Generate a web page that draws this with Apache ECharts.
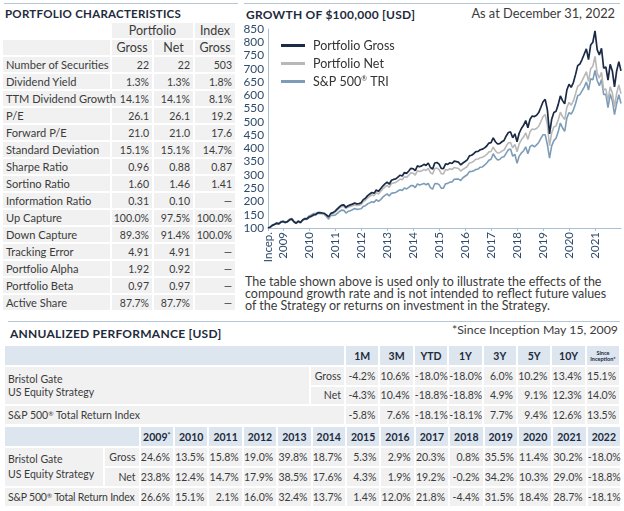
<!DOCTYPE html>
<html><head><meta charset="utf-8">
<script src="https://cdn.jsdelivr.net/npm/echarts@6.0.0/dist/echarts.min.js"></script>
<style>
html,body{margin:0;padding:0;background:#fff;}
body{width:624px;height:511px;position:relative;overflow:hidden;font-family:Lato,'Open Sans',sans-serif;color:#3b3b3b;}
.rule{position:absolute;height:1px;background:#b7c7d7;}
.title{position:absolute;font-weight:bold;font-size:11.5px;color:#1e2b3c;letter-spacing:0.25px;white-space:nowrap;}
.txt{position:absolute;white-space:nowrap;}
table{border-collapse:separate;border-spacing:2px;position:absolute;table-layout:fixed;font-size:10.5px;color:#3b3b3b;}
td{padding:0;white-space:nowrap;overflow:visible;box-sizing:border-box;}
.g{background:#f1f1f1;}
.b{background:#dde6ef;}
.r{text-align:right;padding-right:3px;}
.c{text-align:center;}
.l{text-align:left;padding-left:3px;}
.hb{font-weight:bold;color:#1e2b3c;}
.reg{font-size:6.5px;vertical-align:3px;}
.tiny{font-size:5.5px;line-height:6px;font-weight:bold;color:#1e2b3c;}
#charTable .l{font-size:11.1px;}
#charTable .h{font-size:12.5px;}
</style>
</head><body>
<div class="rule" style="left:4px;top:3px;width:234px;"></div>
<div class="rule" style="left:244px;top:3px;width:376px;"></div>
<div class="title" style="left:5px;top:7px;">PORTFOLIO CHARACTERISTICS</div>
<div class="title" style="left:246px;top:7px;font-size:12px;">GROWTH OF $100,000 [USD]</div>
<div class="txt" style="right:9px;top:5px;font-size:12.8px;color:#3b3b3b;">As at December 31, 2022</div>
<table id="charTable" style="left:1px;top:21px;width:236px;"></table>
<div id="chart" style="position:absolute;left:240px;top:20px;width:384px;height:250px;"></div>
<div class="txt" style="left:245px;top:276px;font-size:12.5px;line-height:12px;color:#3b3b3b;">The table shown above is used only to illustrate the effects of the<br>compound growth rate and is not intended to reflect future values<br>of the Strategy or returns on investment in the Strategy.</div>
<div class="rule" style="left:8px;top:321px;width:612px;"></div>
<div class="title" style="left:10px;top:326px;font-size:12px;">ANNUALIZED PERFORMANCE [USD]</div>
<div class="txt" style="right:6px;top:322px;font-size:12.3px;color:#3b3b3b;">*Since Inception May 15, 2009</div>
<table id="perfTable" style="left:3px;top:344px;width:618px;"></table>
<table id="yearTable" style="left:3px;top:425px;width:619px;"></table>
<script>
// ---------- Portfolio characteristics ----------
const charLabels = ['Number of Securities','Dividend Yield','TTM Dividend Growth','P/E','Forward P/E','Standard Deviation','Sharpe Ratio','Sortino Ratio','Information Ratio','Up Capture','Down Capture','Tracking Error','Portfolio Alpha','Portfolio Beta','Active Share'];
const charGross = ['22','1.3%','14.1%','26.1','21.0','15.1%','0.96','1.60','0.31','100.0%','89.3%','4.91','1.92','0.97','87.7%'];
const charNet   = ['22','1.3%','14.1%','26.1','21.0','15.1%','0.88','1.46','0.10','97.5%','91.4%','4.91','0.92','0.97','87.7%'];
const charIndex = ['503','1.8%','8.1%','19.2','17.6','14.7%','0.87','1.41','—','100.0%','100.0%','—','—','—','—'];

// ---------- Annualized performance ----------
const perfPeriods = ['1M','3M','YTD','1Y','3Y','5Y','10Y','Since Inception*'];
const perfGross = ['-4.2%','10.6%','-18.0%','-18.0%','6.0%','10.2%','13.4%','15.1%'];
const perfNet   = ['-4.3%','10.4%','-18.8%','-18.8%','4.9%','9.1%','12.3%','14.0%'];
const perfIndex = ['-5.8%','7.6%','-18.1%','-18.1%','7.7%','9.4%','12.6%','13.5%'];

// ---------- Calendar year performance ----------
const years = ['2009*','2010','2011','2012','2013','2014','2015','2016','2017','2018','2019','2020','2021','2022'];
const yrGross = ['24.6%','13.5%','15.8%','19.0%','39.8%','18.7%','5.3%','2.9%','20.3%','0.8%','35.5%','11.4%','30.2%','-18.0%'];
const yrNet   = ['23.8%','12.4%','14.7%','17.9%','38.5%','17.6%','4.3%','1.9%','19.2%','-0.2%','34.2%','10.3%','29.0%','-18.8%'];
const yrIndex = ['26.6%','15.1%','2.1%','16.0%','32.4%','13.7%','1.4%','12.0%','21.8%','-4.4%','31.5%','18.4%','28.7%','-18.1%'];

// ---------- Growth of $100,000 (monthly, May 2009 - Dec 2022, thousands) ----------
const yearTickLabels = ['Incep.','2009','2010','2011','2012','2013','2014','2015','2016','2017','2018','2019','2020','2021'];
const grossValues = [
 100,103,110,113.5,117.5,115.5,122,124.6,
 120.5,124,131,133.5,123.5,118,125.5,120.5,130,134.5,134.5,141.4,
 144.5,149.5,151,157,158,156.5,155,149,142,155,158,163.8,
 172,180,186,187,178,184,187,190,194,191,192,194.9,
 207,212,222,228,234,231,243,238,248,258,266,272.5,
 265,280,283,285,292,299,296,309,306,315,325,323.4,
 316,334,331,334,340,336,345,328,322,345,347,340.6,
 325,324,342,340,346,343,352,350,348,338,345,350.5,
 357,372,374,380,388,389,395,397,402,409,420,421.6,
 440,425,417,418,425,430,447,460,462,440,455,425,
 458,475,487,505,478,510,522,520,525,535,555,575.9,
 585,545,455,510,535,540,565,598,580,568,620,641.5,
 630,648,678,712,718,735,755,775,735,790,800,843,
 772,752,777,702,707,657,717,692,632,692,727,692
];
const netValues = [
 100,102.9,109.8,113.2,117.1,115.0,121.4,123.8,
 119.7,123.0,129.8,132.3,122.3,116.7,124.0,118.9,128.2,132.6,132.5,139.1,
 142.0,146.8,148.3,154.0,154.8,153.2,151.6,145.6,138.7,151.3,154.1,159.5,
 167.4,175.1,180.8,181.6,172.8,178.5,181.2,184.1,187.8,184.7,185.7,188.3,
 199.8,204.4,213.8,219.6,225.1,222.0,233.3,228.2,237.6,247.2,254.6,260.5,
 253.1,267.4,270.0,271.6,278.0,284.6,281.5,293.6,290.7,298.9,308.1,306.6,
 299.3,316.0,312.8,315.3,321.0,316.8,325.0,308.6,303.0,324.3,325.8,319.8,
 304.9,303.6,320.1,317.9,323.5,320.4,328.4,326.2,324.3,314.7,320.9,326.0,
 331.7,345.2,346.7,352.3,359.3,359.8,365.0,366.8,371.0,377.1,386.8,388.3,
 404.8,390.6,382.8,383.7,389.7,393.9,409.0,420.9,422.3,401.7,415.0,387.6,
 417.2,432.3,442.7,459.0,434.0,462.6,472.9,471.1,475.1,483.6,501.2,520.0,
 527.7,491.0,409.5,459.0,481.0,484.9,506.8,536.4,519.7,508.4,554.3,573.5,
 562.6,578.7,604.8,634.4,639.7,654.2,671.2,689.0,652.7,700.7,709.6,747,
 684,665,687,620,624,579,632,609,556,608,639,606
];
const spValues = [
 100,103.5,111.5,115.5,119.8,117.6,124.6,126.6,
 122.0,125.8,133.4,135.5,124.7,118.2,126.5,120.8,131.5,136.5,136.5,145.7,
 149.2,154.3,154.3,158.9,157.2,154.5,151.4,143.2,133.2,147.7,147.4,148.8,
 155.5,162.2,167.5,166.5,156.5,162.9,165.2,169.0,173.4,170.3,171.3,172.6,
 181.6,184.1,191.1,194.7,199.2,196.6,206.6,200.6,206.8,216.3,222.8,228.5,
 220.5,230.6,232.5,234.1,239.5,244.5,241.1,250.7,247.2,253.1,260.0,259.8,
 252.0,266.4,262.1,264.7,268.1,263.0,268.5,252.4,246.1,266.8,267.6,263.4,
 250.2,250.0,267.0,268.1,272.9,273.7,283.8,284.1,284.1,279.0,289.3,295.0,
 300.6,312.6,312.9,316.0,320.4,322.3,329.1,330.1,337.0,344.8,355.5,359.3,
 379.8,365.7,356.6,358.0,366.6,368.8,382.4,395.0,397.4,370.4,377.8,343.5,
 371.0,382.9,390.2,405.8,379.8,406.4,412.1,405.5,413.2,422.3,437.5,451.7,
 451.6,414.6,363.2,409.7,429.4,438.0,462.5,495.8,477.0,464.1,514.7,534.8,
 529.5,544.3,568.3,598.4,602.6,616.5,631.3,650.2,619.7,663.0,658.4,694,
 656,636,660,603,604,554,605,580,527,570,602,569
];

// month categories
const months = [];
for (let y = 2009; y <= 2022; y++) {
  for (let m = (y === 2009 ? 5 : 1); m <= 12; m++) months.push(y + '-' + (m < 10 ? '0' + m : m));
}
const tickMap = {};
tickMap[months[0]] = yearTickLabels[0];
for (let i = 1; i < yearTickLabels.length; i++) tickMap[yearTickLabels[i] + '-12'] = yearTickLabels[i];

function regify(s){ return s.replace('®','<span class="reg">®</span>'); }

// build characteristics table
(function(){
  const W=[107,40,39,40];
  let h='<colgroup>'+W.map(w=>'<col style="width:'+w+'px">').join('')+'</colgroup>';
  const H='height:15px;';
  h+='<tr style="'+H+'"><td></td><td class="g c h" colspan="2">Portfolio</td><td class="g c h">Index</td></tr>';
  h+='<tr style="'+H+'"><td class="g"></td><td class="g c h">Gross</td><td class="g c h">Net</td><td class="g c h">Gross</td></tr>';
  for(let i=0;i<charLabels.length;i++){
    h+='<tr style="'+H+'"><td class="g l">'+charLabels[i]+'</td><td class="g r">'+charGross[i]+'</td><td class="g r">'+charNet[i]+'</td><td class="g r">'+charIndex[i]+'</td></tr>';
  }
  document.getElementById('charTable').innerHTML=h;
})();

// build annualized performance table
(function(){
  let h='<colgroup><col style="width:304px"><col style="width:33px">'+perfPeriods.map(()=>'<col style="width:32.4px">').join('')+'</colgroup>';
  h+='<tr style="height:19px"><td class="b" colspan="2"></td>'+perfPeriods.map(p=>{
    if(p.indexOf('Since')===0) return '<td class="b c"><div class="tiny">Since<br>Inception*</div></td>';
    return '<td class="b c hb">'+p+'</td>';}).join('')+'</tr>';
  h+='<tr style="height:17.5px"><td class="g l" rowspan="2" style="line-height:13px;vertical-align:middle;">Bristol Gate<br>US Equity Strategy</td><td class="g r">Gross</td>'+perfGross.map(v=>'<td class="g r">'+v+'</td>').join('')+'</tr>';
  h+='<tr style="height:17.5px"><td class="g r">Net</td>'+perfNet.map(v=>'<td class="g r">'+v+'</td>').join('')+'</tr>';
  h+='<tr style="height:17.5px"><td class="g l" colspan="2">'+regify('S&P 500® Total Return Index')+'</td>'+perfIndex.map(v=>'<td class="g r">'+v+'</td>').join('')+'</tr>';
  document.getElementById('perfTable').innerHTML=h;
})();

// build calendar year table
(function(){
  let h='<colgroup><col style="width:98px"><col style="width:33.6px">'+years.map(()=>'<col style="width:32.4px">').join('')+'</colgroup>';
  h+='<tr style="height:19px"><td class="b" colspan="2"></td>'+years.map(y=>'<td class="b c hb">'+y.replace('*','<span style="font-size:7px;vertical-align:3px">*</span>')+'</td>').join('')+'</tr>';
  h+='<tr style="height:18px"><td class="g l" rowspan="2" style="line-height:15px;vertical-align:middle;">Bristol Gate<br>US Equity Strategy</td><td class="g r">Gross</td>'+yrGross.map(v=>'<td class="g r">'+v+'</td>').join('')+'</tr>';
  h+='<tr style="height:18px"><td class="g r">Net</td>'+yrNet.map(v=>'<td class="g r">'+v+'</td>').join('')+'</tr>';
  h+='<tr style="height:18px"><td class="g l" colspan="2" style="letter-spacing:-0.2px">'+regify('S&P 500® Total Return Index')+'</td>'+yrIndex.map(v=>'<td class="g r">'+v+'</td>').join('')+'</tr>';
  document.getElementById('yearTable').innerHTML=h;
})();

// chart
const axisBlue = '#a9bfd4';
const labelColor = '#2f4b6c';
const showTick = (idx, val) => tickMap[val] !== undefined;
const chart = echarts.init(document.getElementById('chart'), null, {renderer:'canvas'});
chart.setOption({
  animation:false,
  grid:{left:28,right:3,top:9,bottom:42},
  legend:{
    orient:'vertical', left:36, top:14, itemWidth:24, itemHeight:3, itemGap:5, icon:'rect',
    textStyle:{fontSize:12.5,color:'#333',fontFamily:'Lato',padding:[0,0,0,3],
      rich:{a:{fontSize:12.5,color:'#333',fontFamily:'Lato'},s:{fontSize:7,color:'#333',fontFamily:'Lato',padding:[0,0,5,0]}}},
    formatter: n => n.indexOf('®')>=0 ? '{a|S&P 500}{s|®}{a| TRI}' : n,
    data:['Portfolio Gross','Portfolio Net','S&P 500® TRI']
  },
  xAxis:{
    type:'category', boundaryGap:false, data:months,
    axisLine:{lineStyle:{color:axisBlue,width:1}},
    axisTick:{show:true,length:3,interval:showTick,lineStyle:{color:axisBlue}},
    axisLabel:{interval:showTick,rotate:90,margin:4,fontSize:11.5,color:labelColor,fontFamily:'Lato',
      formatter:(v)=>tickMap[v]||''}
  },
  yAxis:{
    type:'value', min:100, max:850, interval:50,
    axisLine:{show:true,lineStyle:{color:axisBlue,width:1}},
    axisTick:{show:false}, splitLine:{show:false},
    axisLabel:{fontSize:11.8,color:labelColor,margin:4,fontFamily:'Lato'}
  },
  series:[
    {name:'S&P 500® TRI',type:'line',data:spValues,showSymbol:false,z:2,lineStyle:{color:'#7d9cb8',width:1.6},itemStyle:{color:'#7d9cb8'}},
    {name:'Portfolio Net',type:'line',data:netValues,showSymbol:false,z:3,lineStyle:{color:'#b8b8b8',width:1.6},itemStyle:{color:'#b8b8b8'}},
    {name:'Portfolio Gross',type:'line',data:grossValues,showSymbol:false,z:4,lineStyle:{color:'#1c2b45',width:1.7},itemStyle:{color:'#1c2b45'}}
  ]
});
</script>
</body></html>
